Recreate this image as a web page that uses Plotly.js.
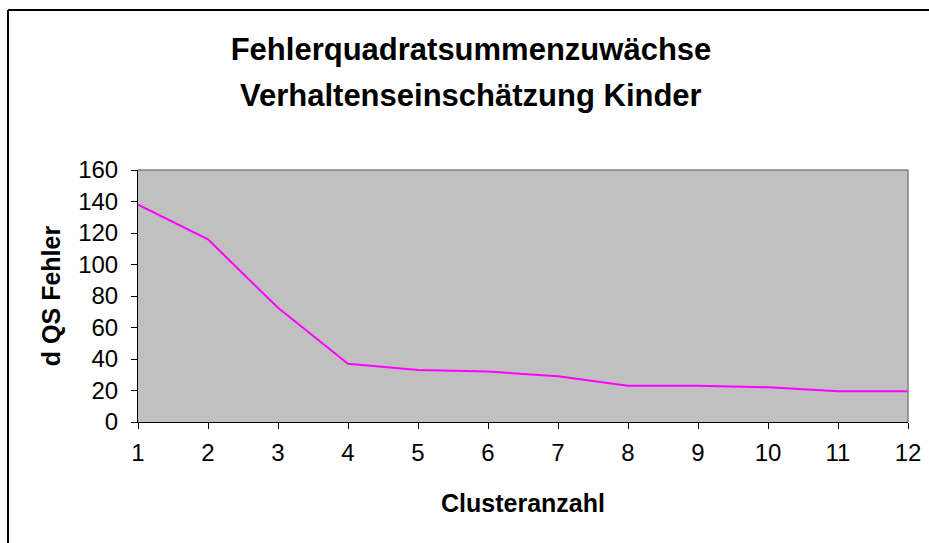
<!DOCTYPE html>
<html>
<head>
<meta charset="utf-8">
<script src="https://cdn.plot.ly/plotly-3.0.1.min.js"></script>
<style>
html,body{margin:0;padding:0;background:#fff;}
#chart{width:929px;height:543px;}
</style>
</head>
<body>
<div id="chart"></div>
<script>
var clusterCount = [1,2,3,4,5,6,7,8,9,10,11,12];
var dQSFehler = [138,116,72.5,37,33,32,29,23,23,22,19.5,19.5];
var xTickValues = [1,2,3,4,5,6,7,8,9,10,11,12];
var yTickValues = [0,20,40,60,80,100,120,140,160];
var titleLine1 = 'Fehlerquadratsummenzuwächse';
var titleLine2 = 'Verhaltenseinschätzung Kinder';

var FONT = 'Arial, "Liberation Sans", sans-serif';

var trace = {
  x: clusterCount,
  y: dQSFehler,
  type: 'scatter',
  mode: 'lines',
  line: {color: '#FF00FF', width: 2},
  showlegend: false,
  hoverinfo: 'x+y'
};

var L = 138, R = 908, T = 170, B = 422;
var W = R - L, H = B - T;
function px(x){ return (x - L) / W; }
function py(y){ return (B - y) / H; }

var layout = {
  width: 929,
  height: 543,
  margin: {l: L, r: 929 - R, t: T, b: 543 - B, pad: 0},
  paper_bgcolor: '#FFFFFF',
  plot_bgcolor: '#C0C0C0',
  font: {family: FONT, color: '#000000'},
  title: {
    text: '<b>' + titleLine1 + '</b>',
    font: {family: FONT, size: 31, color: '#000000'},
    x: 471/929,
    xanchor: 'center',
    y: 1 - 49/543,
    yanchor: 'middle',
    yref: 'container'
  },
  annotations: [
    {text: '<b>' + titleLine2 + '</b>', xref: 'paper', yref: 'paper',
     x: px(471), y: py(96), xanchor: 'center', yanchor: 'middle', showarrow: false,
     font: {family: FONT, size: 31, color: '#000000'}}
  ],
  xaxis: {
    range: [1, 12],
    tickvals: xTickValues,
    ticktext: xTickValues.map(String),
    showgrid: false,
    zeroline: false,
    showline: true,
    linecolor: '#000000',
    linewidth: 1,
    ticks: 'outside',
    ticklen: 6,
    tickcolor: '#000000',
    tickwidth: 1,
    ticklabelstandoff: 3,
    tickfont: {family: FONT, size: 24, color: '#000000'},
    title: {text: '<b>Clusteranzahl</b>', font: {family: FONT, size: 25, color: '#000000'}, standoff: 29}
  },
  yaxis: {
    range: [0, 160],
    tickvals: yTickValues,
    ticktext: yTickValues.map(String),
    showgrid: false,
    zeroline: false,
    showline: true,
    linecolor: '#000000',
    linewidth: 1,
    ticks: 'outside',
    ticklen: 6,
    tickcolor: '#000000',
    tickwidth: 1,
    ticklabelstandoff: 8,
    tickfont: {family: FONT, size: 24, color: '#000000'},
    title: {text: '<b>d QS Fehler</b>', font: {family: FONT, size: 25, color: '#000000'}, standoff: 10}
  },
  shapes: [
    {type: 'line', xref: 'paper', yref: 'paper', x0: 0, x1: 1, y0: 1, y1: 1,
     line: {color: '#808080', width: 1.5}, layer: 'above'},
    {type: 'line', xref: 'paper', yref: 'paper', x0: 1, x1: 1, y0: 0, y1: 1,
     line: {color: '#808080', width: 1.5}, layer: 'above'},
    {type: 'line', xref: 'paper', yref: 'paper', x0: px(8), x1: px(929), y0: py(10), y1: py(10),
     line: {color: '#000000', width: 2}},
    {type: 'line', xref: 'paper', yref: 'paper', x0: px(8), x1: px(8), y0: py(10), y1: py(545),
     line: {color: '#000000', width: 2}}
  ]
};

Plotly.newPlot('chart', [trace], layout, {displayModeBar: false, staticPlot: true});
</script>
</body>
</html>
